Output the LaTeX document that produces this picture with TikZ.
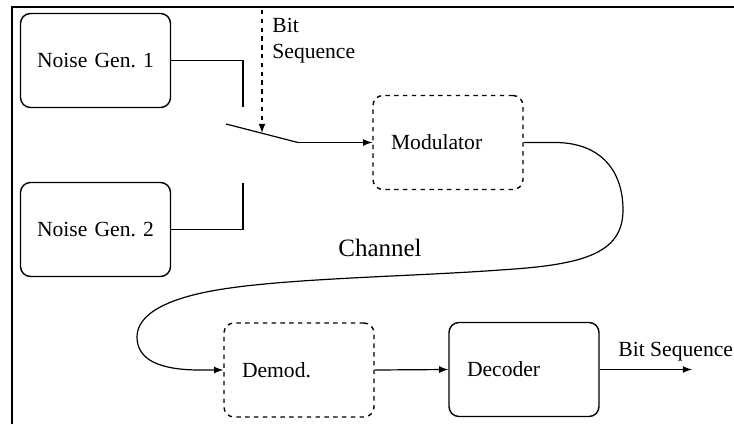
\documentclass[tikz,border=0pt]{standalone}
\usepackage{fontspec}
\setmainfont{Liberation Serif}
\begin{document}
\begin{tikzpicture}[x = 0.5pt, y = -0.5pt,
  blk/.style  = {draw, rounded corners = 5pt, line width = 0.7pt, minimum width = 75pt, minimum height = 47pt, text width = 57pt, inner xsep = 9pt, align = left, font = \fontsize{10.8}{13}\selectfont},
  nblk/.style = {blk, text width = 70pt, inner xsep = 2.5pt, align = center},
  dblk/.style = {blk, dash pattern = on 2.2pt off 2.2pt},
  lnk/.style  = {line width = 0.6pt},
  lbl/.style  = {font = \fontsize{10.8}{13}\selectfont, inner sep = 0pt}]
\useasboundingbox (0, 0) rectangle (734, 424);
\draw[line width = 0.9pt] (12, 424) |- (734, 7);

\node[nblk] at (95.5, 60.5) (N1)  {Noise Gen.\ 1};
\node[nblk] at (95.5, 229.5) (N2) {Noise Gen.\ 2};
\node[dblk] at (448, 142.5) (Mod) {Modulator};
\node[dblk] at (299, 370) (Dem)   {Demod.};
\node[blk] at (524, 369.5) (Dec)  {Decoder};

\coordinate (s1) at (243, 107);
\coordinate (s2) at (243, 183);
\coordinate (lA) at (226, 124);
\coordinate (lB) at (298, 142.5);
\coordinate (bT) at (262, 10);
\coordinate (bE) at (262, 133);
\coordinate (out) at (692, 369.5);

\node[lbl, anchor = west, align = left] at (272, 41) (bit) {Bit\\Sequence};
\node[lbl, font = \fontsize{12.5}{15}\selectfont] at (380, 248) (ch) {Channel};
\node[lbl, anchor = west] at (618, 352) (bout) {Bit Sequence};

\draw[lnk] (N1.east) -| (s1);
\draw[lnk] (N2.east) -| (s2);
\draw[lnk] (lA) -- (lB);
\draw[lnk, -latex] (lB) -- (Mod.west);
\draw[lnk, -latex, dash pattern = on 2.2pt off 2.2pt] (bT) -- (bE);
\draw[lnk, -latex] (Mod.east) -- (555, 142.5)
  .. controls (600, 142.5) and (623, 170) .. (623, 210)
  .. controls (623, 255) and (580, 265) .. (500, 270)
  .. controls (420, 276) and (300, 278) .. (230, 288)
  .. controls (165, 297) and (137, 315) .. (137, 337)
  .. controls (137, 360) and (160, 370) .. (200, 370) -- (Dem.west);
\draw[lnk, -latex] (Dem.east) -- (Dec.west);
\draw[lnk, -latex] (Dec.east) -- (out);

\end{tikzpicture}
\end{document}
